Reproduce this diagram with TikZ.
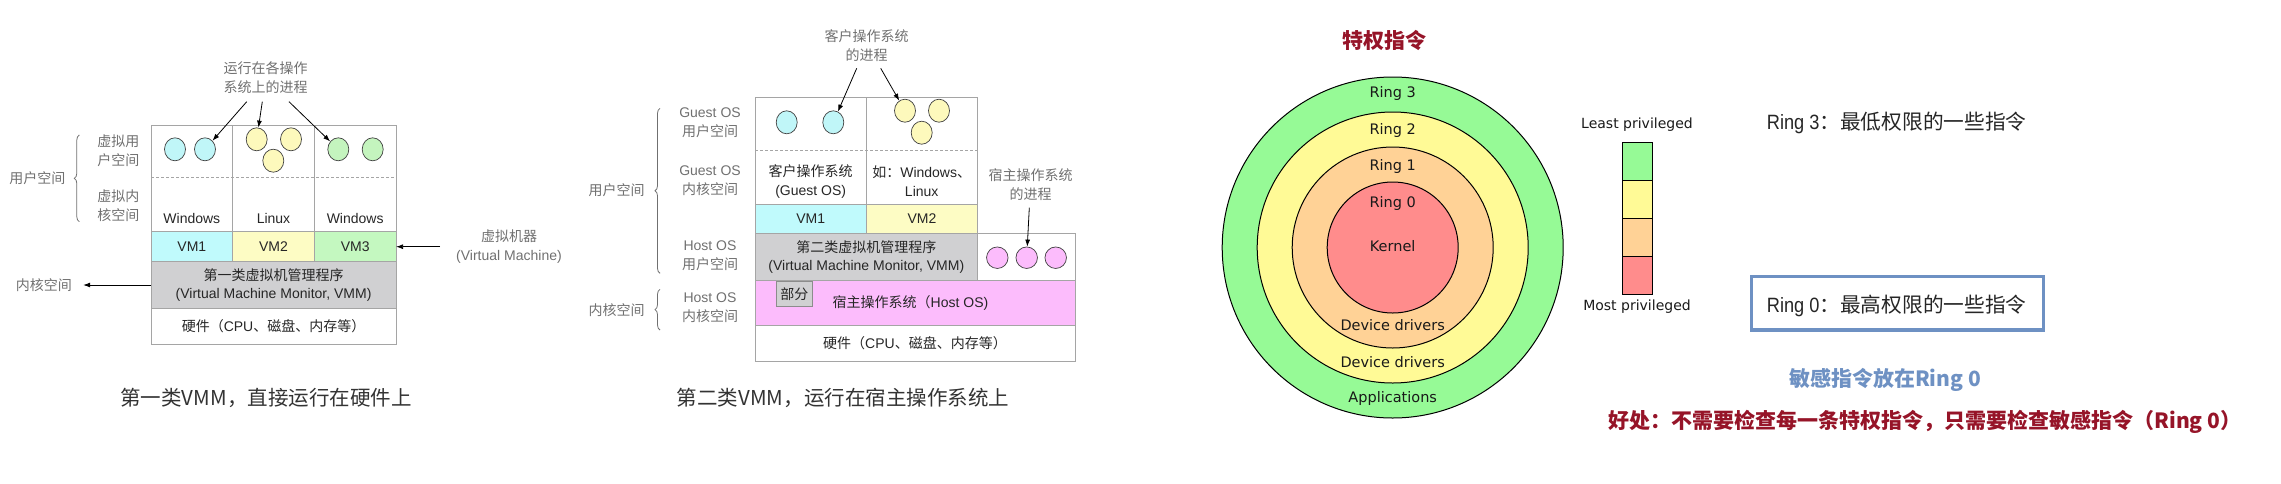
\documentclass[tikz,border=0pt]{standalone}
\usepackage{fontspec}
\setmainfont{Noto Sans CJK SC}
\newfontfamily\hv{Liberation Sans}
\newfontfamily\dv{DejaVu Sans}
\newfontfamily\lnarrow[FakeStretch=0.88]{Liberation Sans}
\usetikzlibrary{arrows.meta,positioning,shapes.geometric,decorations.pathreplacing}

\definecolor{boxgray}{RGB}{165,165,165}
\definecolor{labgray}{RGB}{112,112,112}
\definecolor{vmcyan}{RGB}{192,250,252}
\definecolor{vmyellow}{RGB}{253,252,196}
\definecolor{vmgreen}{RGB}{196,248,192}
\definecolor{vmmgray}{RGB}{208,208,210}
\definecolor{hostpink}{RGB}{252,188,252}
\definecolor{pcyan}{RGB}{192,246,248}
\definecolor{pyellow}{RGB}{253,249,188}
\definecolor{pgreen}{RGB}{196,244,190}
\definecolor{ringgreen}{RGB}{150,250,150}
\definecolor{ringyellow}{RGB}{255,250,150}
\definecolor{ringorange}{RGB}{255,210,150}
\definecolor{ringred}{RGB}{255,140,140}
\definecolor{darkred}{RGB}{150,20,40}
\definecolor{steelblue}{RGB}{110,145,195}

\begin{document}
\begin{tikzpicture}[x=1pt,y=-1pt,>={Latex[length=7pt,width=5pt]}]
\tikzstyle{cell}=[draw=boxgray,line width=0.8pt,inner sep=0pt,outer sep=0pt,align=center,text=black!85,font=\fontsize{14}{18.4}\selectfont]
\tikzstyle{txt}=[align=center,inner sep=0pt,text=black!85,font=\fontsize{14}{19}\selectfont]
\tikzstyle{proc}=[ellipse,draw=black!75,line width=0.7pt,minimum width=21pt,minimum height=23pt,inner sep=0pt]
\tikzstyle{lab}=[align=center,inner sep=1pt,text=labgray,font=\fontsize{14}{19}\selectfont]
\tikzstyle{arr}=[->,line width=0.8pt]
\tikzstyle{brc}=[decorate,decoration={brace,amplitude=5pt},draw=labgray,line width=0.8pt]
\tikzstyle{ringlab}=[inner sep=0pt,text=black!90,font=\dv\fontsize{14.5}{17}\selectfont]
\tikzstyle{rtext}=[anchor=west,inner sep=0pt,text=black!85,font=\fontsize{20.7}{24}\selectfont]
\tikzstyle{capt}=[inner sep=0pt,text=black!80,font=\fontsize{20.5}{24}\selectfont]
\useasboundingbox (0,0) rectangle (2281,483);

% type 1 vmm
\node[cell,minimum width=81.7pt,minimum height=106.7pt] (u1) at (191.85,178.35) {};
\node[cell,minimum width=81.7pt,minimum height=106.7pt,right=0pt of u1] (u2) {};
\node[cell,minimum width=81.7pt,minimum height=106.7pt,right=0pt of u2] (u3) {};
\draw[draw=boxgray,line width=0.7pt,dash pattern=on 3pt off 2pt] (151,177.3) -- (396,177.3);
\node[txt] (os1) at (191.85,218.3) {\hv Windows};
\node[txt] (os2) at (273.5,218.3) {\hv Linux};
\node[txt] (os3) at (355.15,218.3) {\hv Windows};
\node[cell,fill=vmcyan,minimum width=81.7pt,minimum height=30pt] (vm1) at (191.85,246.7) {\hv VM1};
\node[cell,fill=vmyellow,minimum width=81.7pt,minimum height=30pt,right=0pt of vm1] (vm2) {\hv VM2};
\node[cell,fill=vmgreen,minimum width=81.7pt,minimum height=30pt,right=0pt of vm2] (vm3) {\hv VM3};
\node[cell,fill=vmmgray,minimum width=245pt,minimum height=46.6pt,below=0pt of vm2] (vmm1) {第一类虚拟机管理程序\\\hv (Virtual Machine Monitor, VMM)};
\node[cell,minimum width=245pt,minimum height=35.7pt,below=0pt of vmm1] (hw1) {硬件（{\hv CPU}、磁盘、内存等）};

\node[proc,fill=pcyan] (c11) at (175,149.3) {};
\node[proc,fill=pcyan] (c12) at (205,149.3) {};
\node[proc,fill=pyellow] (y11) at (256.7,139.3) {};
\node[proc,fill=pyellow] (y12) at (291,139.3) {};
\node[proc,fill=pyellow] (y13) at (273.3,160.7) {};
\node[proc,fill=pgreen] (g11) at (338.3,149.3) {};
\node[proc,fill=pgreen] (g12) at (372.7,149.3) {};

\node[lab] (p1) at (265.7,78) {运行在各操作\\系统上的进程};
\coordinate (p1a) at (246.7,101.7);
\coordinate (p1b) at (262.3,101.7);
\coordinate (p1c) at (289,101.7);
\draw[arr] (p1a) -- (c12);
\draw[arr] (p1b) -- (y11);
\draw[arr] (p1c) -- (g11);

\node[lab] (vu) at (118.3,150.8) {虚拟用\\户空间};
\node[lab] (vk) at (118.3,205.8) {虚拟内\\核空间};
\draw[brc] (79.3,221.7) -- (79.3,135);
\node[lab] (us1) at (37.3,178.5) {用户空间};
\node[lab] (ks1) at (44,285) {内核空间};
\draw[arr,shorten >=10pt] (vmm1.west) -- (ks1);
\node[lab] (vmlab) at (509,247) {虚拟机器\\\hv (Virtual Machine)};
\coordinate (vmt) at (440,246.7);
\draw[arr] (vmt) -- (vm3.east);
\node[capt] (cap1) at (266,398) {第一类VMM，直接运行在硬件上};

% type 2 vmm
\node[cell,minimum width=111.3pt,minimum height=107pt] (gu1) at (810.65,150.5) {};
\node[cell,minimum width=111.3pt,minimum height=107pt,right=0pt of gu1] (gu2) {};
\draw[draw=boxgray,line width=0.7pt,dash pattern=on 3pt off 2pt] (755,150) -- (977.7,150);
\node[txt] (gos) at (810.7,181.2) {客户操作系统\\\hv (Guest OS)};
\node[txt] (eg) at (921.7,181.2) {如：{\hv Windows}、\\\hv Linux};
\node[cell,fill=vmcyan,minimum width=111.3pt,minimum height=29.5pt] (vm21) at (810.65,218.75) {\hv VM1};
\node[cell,fill=vmyellow,minimum width=111.3pt,minimum height=29.5pt,right=0pt of vm21] (vm22) {\hv VM2};
\node[cell,fill=vmmgray,minimum width=222.7pt,minimum height=46.5pt,below=0pt of vm21.south east] (vmm2) {第二类虚拟机管理程序\\\hv (Virtual Machine Monitor, VMM)};
\node[cell,minimum width=97.3pt,minimum height=46.5pt,right=0pt of vmm2] (hp) {};
\node[cell,fill=hostpink,minimum width=320pt,minimum height=45pt] (host) at (915,302.5) {};
\node[txt] (hostt) at (910.5,303.3) {宿主操作系统（{\hv Host OS)}};
\node[cell,fill=vmmgray,draw=black!45,minimum width=36.7pt,minimum height=25.7pt] (part) at (794.3,293.8) {部分};
\node[cell,minimum width=320pt,minimum height=36pt,below=0pt of host] (hw2) {硬件（{\hv CPU}、磁盘、内存等）};

\node[proc,fill=pcyan] (c21) at (786.7,122.3) {};
\node[proc,fill=pcyan] (c22) at (833.3,122.3) {};
\node[proc,fill=pyellow] (y21) at (905,110.7) {};
\node[proc,fill=pyellow] (y22) at (939,110.7) {};
\node[proc,fill=pyellow] (y23) at (921.7,132.7) {};
\node[proc,fill=hostpink,minimum height=21.5pt,minimum width=21.5pt] (k21) at (997.3,257.7) {};
\node[proc,fill=hostpink,minimum height=21.5pt,minimum width=21.5pt] (k22) at (1026.7,257.7) {};
\node[proc,fill=hostpink,minimum height=21.5pt,minimum width=21.5pt] (k23) at (1055.7,257.7) {};

\node[lab] (p2) at (866.7,45.2) {客户操作系统\\的进程};
\coordinate (p2a) at (856.7,68.3);
\coordinate (p2b) at (880.7,68.3);
\draw[arr] (p2a) -- (c22);
\draw[arr] (p2b) -- (y21);
\node[lab] (p3) at (1030.7,184.2) {宿主操作系统\\的进程};
\coordinate (p3a) at (1029.3,207.7);
\draw[arr] (p3a) -- (k22);

\node[lab] (gsu) at (710,122.8) {{\hv Guest OS}\\用户空间};
\node[lab] (gsk) at (710,180.5) {{\hv Guest OS}\\内核空间};
\node[lab] (hsu) at (710,255.5) {{\hv Host OS}\\用户空间};
\node[lab] (hsk) at (710,308) {{\hv Host OS}\\内核空间};
\draw[brc] (660,273.3) -- (660,108.3);
\draw[brc] (660,330) -- (660,289.3);
\node[lab] (us2) at (616.7,190) {用户空间};
\node[lab] (ks2) at (616.7,310) {内核空间};
\node[capt] (cap2) at (843,398) {第二类VMM，运行在宿主操作系统上};

% rings
\node[font=\bfseries\fontsize{21}{24}\selectfont,text=darkred] (title) at (1384,40.7) {特权指令};
\node[circle,draw,line width=1pt,fill=ringgreen,minimum size=341pt] (ring3) at (1392.7,247.5) {};
\node[circle,draw,line width=1pt,fill=ringyellow,minimum size=271pt] (ring2) at (1392.7,247.5) {};
\node[circle,draw,line width=1pt,fill=ringorange,minimum size=201pt] (ring1) at (1392.7,247.5) {};
\node[circle,draw,line width=1pt,fill=ringred,minimum size=131pt] (ring0) at (1392.7,247.5) {};
\node[ringlab] (l3) at (1392.7,93.3) {Ring 3};
\node[ringlab] (l2) at (1392.7,130) {Ring 2};
\node[ringlab] (l1) at (1392.7,166.7) {Ring 1};
\node[ringlab] (l0) at (1392.7,203.3) {Ring 0};
\node[ringlab] (kern) at (1392.7,245.7) {Kernel};
\node[ringlab] (dd1) at (1392.7,325) {Device drivers};
\node[ringlab] (dd2) at (1392.7,361.7) {Device drivers};
\node[ringlab] (apps) at (1392.7,398.3) {Applications};

\foreach \c [count=\i] in {ringgreen,ringyellow,ringorange,ringred}
  \node[draw,line width=1pt,fill=\c,minimum width=30pt,minimum height=38pt] (bar\i) at (1637.3,{161.3+(\i-1)*38}) {};
\node[ringlab,font=\dv\fontsize{14}{17}\selectfont] (least) at (1637,125) {Least privileged};
\node[ringlab,font=\dv\fontsize{14}{17}\selectfont] (most) at (1637,307) {Most privileged};

\node[rtext] (r3) at (1766.7,123.3) {{\lnarrow Ring 3}：最低权限的一些指令};
\node[draw=steelblue,line width=3.3pt,minimum width=291.6pt,minimum height=53.3pt] (r0box) at (1897.5,303.3) {};
\node[rtext] (r0) at (1766.7,305.7) {{\lnarrow Ring 0}：最高权限的一些指令};
\node[font=\bfseries\fontsize{21}{24}\selectfont,text=steelblue] (sens) at (1885,380) {敏感指令放在Ring 0};
\node[font=\bfseries\fontsize{21}{24}\selectfont,text=darkred] (gain) at (1925,422) {好处：不需要检查每一条特权指令，只需要检查敏感指令（Ring 0）};
\end{tikzpicture}
\end{document}
